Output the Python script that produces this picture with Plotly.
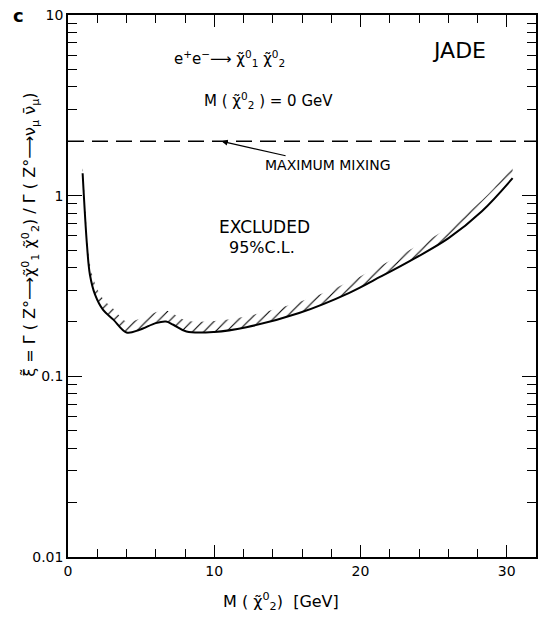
import plotly.graph_objects as go

# ---- data ----
mass = [1.0, 1.3, 1.5, 1.85, 2.4, 3.1, 4.0, 4.9, 6.0, 6.7, 7.2, 8.1, 10.0, 12.2, 15.8, 19.2, 21.4, 23.7, 26.0, 28.3, 30.4]
xi_limit = [1.33, 0.53, 0.365, 0.283, 0.233, 0.206, 0.175, 0.181, 0.197, 0.201, 0.193, 0.177, 0.176, 0.187, 0.224, 0.289, 0.357, 0.45, 0.58, 0.82, 1.25]
max_mixing = 2.0
x_range = [0, 32]
y_ticks = [0.01, 0.1, 1, 10]
y_tick_labels = ["0.01", "0.1", "1", "10"]
x_ticks = [0, 10, 20, 30]

HATCH = 1.15
FONT = "DejaVu Sans"
W, H = 545, 619
ML, MR, MT, MB = 68, 7, 14, 62
PW, PH = W - ML - MR, H - MT - MB

fig = go.Figure()

# hatched band above the limit curve
fig.add_trace(go.Scatter(x=mass, y=xi_limit, mode="lines", line=dict(width=0, shape="spline"),
                         showlegend=False, hoverinfo="skip"))
fig.add_trace(go.Scatter(x=mass, y=[v * HATCH for v in xi_limit], mode="lines",
                         line=dict(width=0, shape="spline"), fill="tonexty",
                         fillcolor="rgba(0,0,0,0)",
                         fillpattern=dict(shape="/", fgcolor="black", fgopacity=1,
                                          bgcolor="rgba(0,0,0,0)", size=8, solidity=0.14),
                         showlegend=False, hoverinfo="skip"))
# limit curve
fig.add_trace(go.Scatter(x=mass, y=xi_limit, mode="lines",
                         line=dict(color="black", width=2, shape="spline"),
                         showlegend=False))
# maximum mixing line
fig.add_trace(go.Scatter(x=x_range, y=[max_mixing, max_mixing], mode="lines",
                         line=dict(color="black", width=1.6, dash="16px,8px"),
                         showlegend=False))
# invisible trace that carries the mirrored (top/right) axes
fig.add_trace(go.Scatter(x=x_range, y=[max_mixing, max_mixing], mode="lines", xaxis="x2", yaxis="y2",
                         line=dict(width=0), opacity=0, showlegend=False, hoverinfo="skip"))

tickfont = dict(family=FONT, size=14, color="black")
xminor = dict(ticks="inside", dtick=2, ticklen=8, tickwidth=1.2, tickcolor="black", showgrid=False)
yminor = dict(ticks="inside", dtick="D1", ticklen=9, tickwidth=1.2, tickcolor="black", showgrid=False)
common = dict(showline=True, linecolor="black", linewidth=1.6, ticks="inside", tickcolor="black",
              showgrid=False, zeroline=False, tickwidth=1.3)

fig.update_layout(
    xaxis=dict(range=x_range, tickvals=x_ticks, ticklen=12, minor=xminor, mirror=True,
               tickfont=tickfont, **common),
    yaxis=dict(type="log", range=[-2, 1], tickvals=y_ticks, ticktext=y_tick_labels, ticklen=14,
               minor=yminor, mirror=True, tickfont=tickfont, **common),
    xaxis2=dict(range=x_range, tickvals=x_ticks, ticklen=12, minor=xminor, overlaying="x",
                side="top", showticklabels=False, **common),
    yaxis2=dict(type="log", range=[-2, 1], tickvals=y_ticks, ticklen=14, minor=yminor,
                overlaying="y", side="right", showticklabels=False, **common),
)

tf = dict(family=FONT, color="black")
chi = "\u03c7\u0303"
arrow = "\u27f6"
ann = [
    dict(x=18, y=14, text="<b>c</b>", font=dict(size=18, **tf)),
    dict(x=230, y=58, text="e<sup>+</sup>e<sup>\u2212</sup>" + arrow + " " + chi + "<sup>0</sup><sub>1</sub> " + chi + "<sup>0</sup><sub>2</sub>",
         font=dict(size=15, **tf)),
    dict(x=461, y=50, text="JADE", font=dict(size=22, **tf)),
    dict(x=269, y=100, text="M ( " + chi + "<sup>0</sup><sub>2</sub> ) = 0 GeV", font=dict(size=15, **tf)),
    dict(x=265, y=226, text="EXCLUDED", font=dict(size=17, **tf)),
    dict(x=263, y=247, text="95%C.L.", font=dict(size=16, **tf)),
    dict(x=282, y=602, text="M ( " + chi + "<sup>0</sup><sub>2</sub>)  [GeV]", font=dict(size=16, **tf)),
    dict(x=30, y=234, textangle=-90,
         text="\u03be\u0303 = \u0393 ( Z\u00b0" + arrow + chi + "<sup>0</sup><sub>1</sub> " + chi +
              "<sup>0</sup><sub>2</sub>) / \u0393 ( Z\u00b0" + arrow + "\u03bd<sub>\u03bc</sub> \u03bd\u0304<sub>\u03bc</sub>)",
         font=dict(size=16, **tf)),
]
annotations = []
for a in ann:
    d = dict(a)
    d["x"] = (a["x"] - ML) / PW
    d["y"] = 1 - (a["y"] - MT) / PH
    d.update(xref="paper", yref="paper", showarrow=False, xanchor="center", yanchor="middle")
    annotations.append(d)

# arrow to the maximum-mixing line
annotations.append(dict(x=10.5, y=0.30103, xref="x", yref="y", text="MAXIMUM MIXING",
                        showarrow=True, arrowhead=2, arrowsize=1, arrowwidth=1.2, arrowcolor="black",
                        ax=106, ay=24, font=dict(size=14, **tf)))

fig.update_layout(width=W, height=H, autosize=False, margin=dict(l=ML, r=MR, t=MT, b=MB),
                  paper_bgcolor="white", plot_bgcolor="white",
                  annotations=annotations, showlegend=False)

fig.write_html("out.html", config={"responsive": False, "displayModeBar": False},
               post_script="document.body.style.margin='0';document.body.style.overflow='hidden';")
